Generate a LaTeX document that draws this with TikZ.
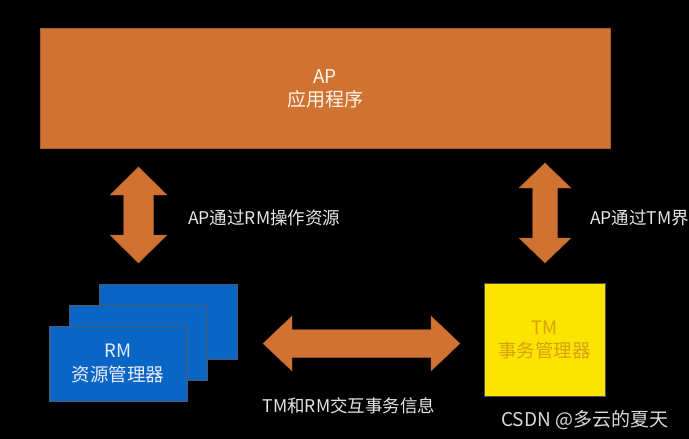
\documentclass[tikz,border=0pt]{standalone}
\usepackage{fontspec}
\newfontfamily\cjk{Noto Sans CJK SC}
\definecolor{aporange}{HTML}{D07232}
\definecolor{apedge}{HTML}{A85A28}
\definecolor{rmblue}{HTML}{0A66C4}
\definecolor{rmedge}{HTML}{4A5A70}
\definecolor{tmyellow}{HTML}{FBE500}
\definecolor{tmtext}{HTML}{D9A010}
\definecolor{labeltext}{HTML}{E6E6E6}
\tikzset{
  apbox/.style={draw=apedge, line width=0.8pt, fill=aporange, text=white!92!orange,
    align=center, font=\cjk\fontsize{19}{23}\selectfont, inner sep=0pt},
  rmbox/.style={draw=rmedge, line width=0.9pt, fill=rmblue, minimum width=138pt,
    minimum height=75pt, inner sep=0pt, text=white!92!blue, align=center,
    font=\cjk\fontsize{18.5}{24}\selectfont},
  tmbox/.style={draw=black!70, line width=0.6pt, fill=tmyellow, text=tmtext,
    align=center, font=\cjk\fontsize{18.5}{23}\selectfont, inner sep=0pt},
  blockarrow/.style={fill=aporange, draw=apedge, line width=0.4pt, line join=miter},
  note/.style={text=labeltext, font=\cjk\fontsize{17.5}{20}\selectfont, inner sep=0pt}
}
\begin{document}
\begin{tikzpicture}[x=1pt,y=-1pt]
\fill[black] (0,0) rectangle (689,439);
\useasboundingbox (0,0) rectangle (689,439);

% application program
\node[apbox, minimum width=570pt, minimum height=120pt] (ap) at (325,88.5) {AP\\应用程序};

% stacked resource managers
\node[rmbox] (rm3) at (168,321.5) {};
\node[rmbox] (rm2) at (138,342.5) {};
\node[rmbox] (rm1) at (118,363.5) {RM\\资源管理器};

% transaction manager
\node[tmbox, minimum width=121pt, minimum height=113pt] (tm) at (544.5,339.5) {TM\\事务管理器};

% double-headed block arrow: AP <-> RM
\path[blockarrow] (138.5,167) -- (167,195) -- (153.5,195) -- (153.5,235) -- (167,235)
  -- (138.5,263) -- (110,235) -- (123.5,235) -- (123.5,195) -- (110,195) -- cycle;
% double-headed block arrow: AP <-> TM
\path[blockarrow] (545,163) -- (571,188) -- (557.5,188) -- (557.5,238) -- (571,238)
  -- (545,263) -- (519,238) -- (532.5,238) -- (532.5,188) -- (519,188) -- cycle;
% double-headed block arrow: RM <-> TM
\path[blockarrow] (263,343.5) -- (292,316) -- (292,329.5) -- (431,329.5) -- (431,316)
  -- (460,343.5) -- (431,371) -- (431,357.5) -- (292,357.5) -- (292,371) -- cycle;

% labels
\node[note, anchor=west] (l1) at (188,218) {AP通过RM操作资源};
\node[note, anchor=west] (l2) at (590,218) {AP通过TM界};
\node[note] (l3) at (349,406) {TM和RM交互事务信息};
\node[text=white!85!black, font=\cjk\fontsize{19}{20}\selectfont, inner sep=0pt, anchor=west] (wm) at (501,420) {CSDN @多云的夏天};
\end{tikzpicture}
\end{document}
